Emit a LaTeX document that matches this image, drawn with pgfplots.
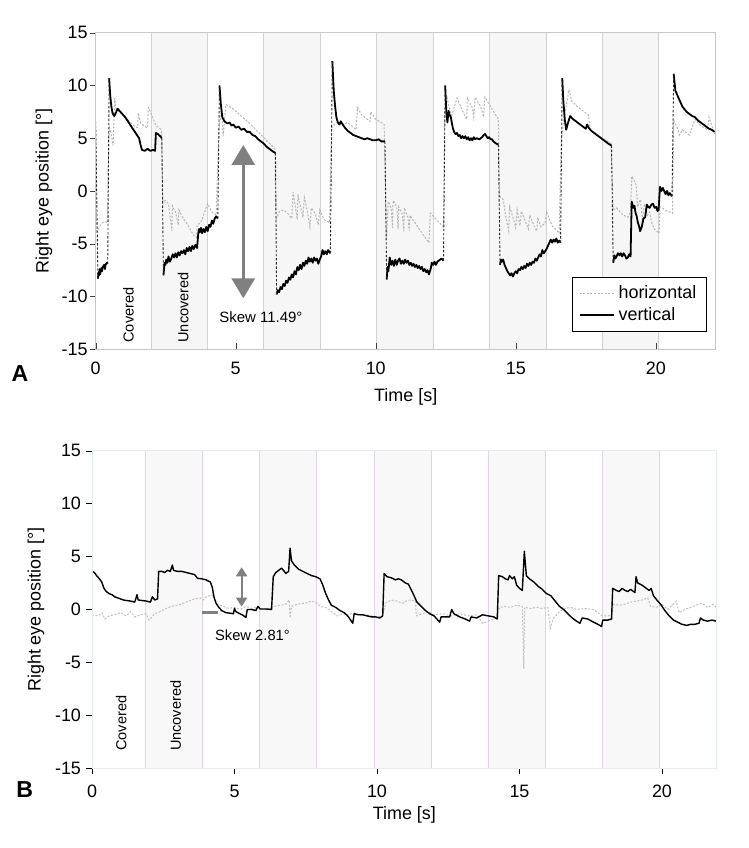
\documentclass[border=0pt]{standalone}
\usepackage{pgfplots}
\pgfplotsset{compat=1.18}
\usepackage{fontspec}
\setmainfont{Liberation Sans}
\usetikzlibrary{arrows.meta}
\definecolor{bandA}{HTML}{F6F6F6}
\definecolor{lineA}{HTML}{D2D2D2}
\definecolor{frameA}{HTML}{C8C8C8}
\definecolor{bandB}{HTML}{F8F8F8}
\definecolor{lineB}{HTML}{E0D4E4}
\definecolor{frameB}{HTML}{E4ECF7}
\definecolor{pinkB}{HTML}{F8E0E0}
\definecolor{hgray}{HTML}{B4B4B4}
\definecolor{arrowgray}{HTML}{808080}
\pgfplotsset{
  common/.style={
    scale only axis, ymin=-15, ymax=15,
    xtick={0,5,10,15,20}, ytick={-15,-10,-5,0,5,10,15},
    xtick pos=left, ytick pos=left,
    tick align=outside, major tick length=3bp,
    axis on top, clip=false,
    tick label style={font=\fontsize{9}{10}\selectfont},
    label style={font=\fontsize{9}{10}\selectfont},
    /pgf/number format/assume math mode=true,
    xlabel={Time [s]}, ylabel={Right eye position [°]},
    unbounded coords=jump,
  },
  hstyle/.style={hgray, line width=0.5bp, dash pattern=on 1bp off 0.8bp},
  vstyle/.style={black, line width=0.9bp, line join=round},
  jstyle/.style={black!85, line width=0.45bp, dash pattern=on 1.2bp off 0.9bp},
}
\begin{document}
\begin{tikzpicture}
\useasboundingbox (0,0) rectangle (374.5bp,424bp);
% ================= Panel A =================
\begin{axis}[common,
  at={(47.85bp,249.35bp)}, anchor=south west,
  width=310bp, height=158.3bp,
  xmin=0, xmax=22.14,
  axis line style={draw=frameA},
  xtick style={draw=black!75, yshift=3bp},
  ytick style={draw=black!75},
  yticklabel style={xshift=2.5bp},
  xlabel style={at={(rel axis cs:0.5,0)}, anchor=center, yshift=-24bp},
  ylabel style={at={(rel axis cs:0,0.5)}, anchor=center, yshift=25.85bp},
  legend style={at={(0.986,0.0546)}, anchor=south east, draw=black, line width=0.7bp,
    fill=white, font=\fontsize{9}{10}\selectfont, inner xsep=3bp, inner ysep=2bp,
    row sep=-1bp},
  legend cell align=left,
]
\fill[bandA] (axis cs:2,-15) rectangle (axis cs:4,15);
\fill[bandA] (axis cs:6,-15) rectangle (axis cs:8.03,15);
\fill[bandA] (axis cs:10.03,-15) rectangle (axis cs:12.05,15);
\fill[bandA] (axis cs:14.06,-15) rectangle (axis cs:16.1,15);
\fill[bandA] (axis cs:18.1,-15) rectangle (axis cs:20.1,15);
\foreach \xx in {2,4,6,8.03,10.03,12.05,14.06,16.1,18.1,20.1}{
  \edef\tmp{\noexpand\draw[lineA, line width=0.5bp] (axis cs:\xx,-15) -- (axis cs:\xx,15);}\tmp}
% horizontal (grey dotted)
\addplot[hstyle] coordinates {
(0,5.5)(0.03,-4.0)(0.1,-3.6)(0.2,-3.1)(0.3,-2.9)(0.42,-3.0)(0.46,4.5)(0.5,6.0)(0.58,5.0)(0.62,4.3)(0.68,8.8)(0.72,7.8)(0.85,7.5)(1.0,7.2)(1.2,6.6)(1.4,6.1)(1.5,6.0)(1.52,7.4)(1.6,6.5)(1.75,6.1)(1.85,6.0)(1.88,7.9)(2.0,7.2)(2.15,6.2)(2.35,5.8)(2.4,-1.0)(2.5,-0.9)(2.6,-1.2)(2.72,-3.8)(2.74,-1.4)(2.85,-2.0)(2.95,-3.2)(2.97,-1.8)(3.1,-2.5)(3.3,-3.3)(3.5,-4.2)(3.6,-4.4)(3.62,-3.2)(3.75,-3.0)(4.0,-1.2)(4.15,-2.0)(4.3,-2.3)(4.4,6.0)(4.5,7.5)(4.55,5.2)(4.65,8.2)(4.9,7.8)(5.2,7.1)(5.5,6.4)(5.8,5.6)(6.1,4.8)(6.4,4.0)(6.44,-2.7)(6.55,-2.0)(6.7,-1.8)(6.85,-2.1)(7.0,-2.6)(7.05,-0.1)(7.1,-1.0)(7.2,-2.7)(7.22,-0.3)(7.3,-1.3)(7.4,-2.5)(7.45,-0.6)(7.55,-1.8)(7.65,-3.4)(7.7,-1.6)(7.85,-2.2)(7.95,-3.2)(8.0,-1.8)(8.15,-2.7)(8.35,-3.0)(8.42,6.0)(8.6,6.5)(8.8,6.2)(9.0,6.5)(9.3,5.8)(9.35,7.9)(9.5,7.2)(9.8,6.6)(9.82,7.5)(10.0,6.8)(10.3,6.3)(10.38,-4.6)(10.45,-1.0)(10.55,-1.6)(10.6,-3.5)(10.62,-0.9)(10.75,-1.5)(10.8,-3.6)(10.82,-1.5)(10.95,-2.2)(11.0,-3.8)(11.02,-1.6)(11.15,-2.5)(11.2,-3.8)(11.22,-2.3)(11.4,-3.0)(11.6,-3.8)(11.9,-4.9)(11.95,-2.1)(12.2,-2.8)(12.42,-3.4)(12.46,7.7)(12.55,8.8)(12.7,7.0)(12.9,8.8)(13.1,7.6)(13.25,6.8)(13.27,8.8)(13.45,7.9)(13.5,7.0)(13.55,8.9)(13.75,8.0)(13.85,7.0)(13.9,8.9)(14.1,8.0)(14.38,6.8)(14.42,-0.5)(14.55,-0.8)(14.65,-2.5)(14.75,-3.8)(14.78,-1.5)(14.9,-2.5)(15.0,-3.5)(15.05,-1.8)(15.15,-3.3)(15.2,-1.9)(15.35,-2.9)(15.45,-3.6)(15.5,-2.3)(15.65,-3.3)(15.75,-3.8)(15.78,-2.5)(15.9,-3.4)(16.05,-3.0)(16.1,-2.0)(16.3,-3.3)(16.55,-4.0)(16.62,4.5)(16.7,6.5)(16.9,9.6)(17.0,8.5)(17.2,8.0)(17.4,7.6)(17.6,7.2)(17.65,5.8)(17.8,5.5)(18.1,5.0)(18.4,4.5)(18.48,-1.8)(18.6,-1.6)(18.8,-2.2)(19.0,-2.5)(19.1,-2.0)(19.14,1.4)(19.3,0.6)(19.35,-1.5)(19.45,-0.8)(19.52,-2.7)(19.6,-1.2)(19.7,-2.3)(19.78,-2.0)(19.85,-3.0)(19.95,-3.6)(20.12,-4.0)(20.15,-1.5)(20.4,-1.9)(20.6,-2.1)(20.64,6.7)(20.75,6.1)(20.85,5.3)(20.95,5.8)(21.2,5.3)(21.4,6.8)(21.6,6.2)(21.85,5.8)(21.9,7.0)(22.1,5.4)
};
\addlegendentry{horizontal}
% vertical (black) - fixation segments
\addplot[vstyle] coordinates {
(0,6.6)(0.01,nan)
(0.08,-8.3)(0.1,-7.7)(0.12,-8.0)(0.14,-7.4)(0.16,-7.9)(0.2,-7.3)(0.23,-7.6)(0.25,-7.2)(0.3,-7.0)(0.33,-7.4)(0.35,-7.0)(0.4,-6.8)(0.43,-6.9)(0.44,nan)
(0.48,10.7)(0.52,9.0)(0.56,8.0)(0.6,7.4)(0.66,7.1)(0.72,7.4)(0.78,7.8)(0.85,7.6)(0.95,7.3)(1.05,7.0)(1.15,6.6)(1.25,6.2)(1.35,5.8)(1.45,5.4)(1.55,5.0)(1.6,4.4)(1.65,3.9)(1.75,3.8)(1.85,4.0)(1.95,3.8)(2.05,3.9)(2.12,3.8)(2.15,5.5)(2.22,5.4)(2.3,5.2)(2.36,5.0)(2.37,nan)
(2.42,-8.0)(2.46,-6.8)(2.49,-7.0)(2.52,-6.5)(2.56,-6.8)(2.6,-6.2)(2.65,-6.7)(2.7,-6.4)(2.75,-6.0)(2.8,-6.3)(2.85,-5.9)(2.9,-6.3)(2.95,-5.8)(3.0,-6.1)(3.05,-5.7)(3.1,-5.9)(3.15,-5.6)(3.2,-6.0)(3.25,-5.4)(3.3,-5.7)(3.35,-5.3)(3.4,-5.7)(3.45,-5.2)(3.5,-5.5)(3.56,-5.1)(3.62,-5.4)(3.66,-4.1)(3.69,-3.6)(3.72,-3.9)(3.76,-3.5)(3.8,-4.0)(3.85,-3.6)(3.9,-3.9)(3.95,-3.4)(4.0,-3.8)(4.05,-3.2)(4.1,-3.4)(4.15,-2.8)(4.2,-3.1)(4.25,-2.6)(4.3,-2.4)(4.36,-2.6)(4.37,nan)
(4.42,10.0)(4.47,8.2)(4.52,7.0)(4.6,6.6)(4.7,6.4)(4.78,6.5)(4.85,6.2)(4.92,6.3)(5.0,6.0)(5.1,6.1)(5.2,5.8)(5.3,5.9)(5.4,5.6)(5.5,5.6)(5.6,5.3)(5.7,5.2)(5.8,4.9)(5.9,4.7)(6.0,4.5)(6.1,4.2)(6.2,4.0)(6.3,3.8)(6.35,3.7)(6.42,3.6)(6.43,nan)
(6.46,-9.8)(6.5,-9.4)(6.55,-9.6)(6.6,-9.1)(6.65,-9.3)(6.7,-8.8)(6.75,-9.0)(6.8,-8.5)(6.85,-8.7)(6.9,-8.2)(6.95,-8.4)(7.0,-7.9)(7.05,-8.2)(7.1,-7.6)(7.15,-7.9)(7.2,-7.2)(7.25,-7.5)(7.3,-7.0)(7.35,-7.4)(7.4,-6.8)(7.45,-7.1)(7.5,-6.6)(7.55,-6.9)(7.6,-6.3)(7.65,-6.7)(7.7,-6.4)(7.75,-6.8)(7.8,-6.3)(7.85,-6.6)(7.9,-6.4)(7.95,-6.9)(8.0,-6.5)(8.05,-6.2)(8.1,-5.6)(8.15,-6.0)(8.2,-5.7)(8.25,-6.0)(8.3,-5.6)(8.38,-5.9)(8.39,nan)
(8.45,12.3)(8.5,9.5)(8.55,8.0)(8.6,6.9)(8.65,6.5)(8.7,6.3)(8.75,6.6)(8.8,6.4)(8.9,6.0)(9.0,5.7)(9.1,5.5)(9.2,5.3)(9.3,5.2)(9.4,5.1)(9.5,5.0)(9.6,4.9)(9.7,5.0)(9.8,4.9)(9.9,4.8)(10.0,4.8)(10.1,4.9)(10.2,4.7)(10.33,4.7)(10.34,nan)
(10.39,-8.4)(10.42,-7.2)(10.45,-7.6)(10.5,-6.3)(10.55,-7.0)(10.6,-6.6)(10.65,-7.1)(10.7,-6.5)(10.75,-7.0)(10.8,-6.6)(10.85,-6.4)(10.9,-6.9)(10.95,-6.6)(11.0,-6.9)(11.05,-6.5)(11.1,-6.8)(11.15,-6.6)(11.2,-7.0)(11.25,-6.8)(11.3,-7.1)(11.35,-6.9)(11.4,-7.2)(11.45,-7.0)(11.5,-7.3)(11.55,-7.1)(11.6,-7.4)(11.65,-7.2)(11.7,-7.6)(11.75,-7.4)(11.8,-7.7)(11.85,-7.5)(11.9,-7.9)(11.97,-7.3)(12.0,-6.8)(12.05,-7.0)(12.1,-6.7)(12.15,-7.0)(12.2,-6.7)(12.3,-6.5)(12.35,-6.4)(12.42,-6.6)(12.43,nan)
(12.48,10.0)(12.52,7.5)(12.56,6.5)(12.6,7.6)(12.64,7.2)(12.68,7.0)(12.75,6.0)(12.8,5.6)(12.85,5.4)(12.9,5.5)(12.95,5.2)(13.0,5.3)(13.05,5.0)(13.1,5.2)(13.15,5.0)(13.2,5.2)(13.25,4.9)(13.3,5.1)(13.35,4.8)(13.4,5.0)(13.45,4.8)(13.5,5.1)(13.55,4.9)(13.6,5.0)(13.7,4.9)(13.8,5.1)(13.85,5.3)(13.9,5.4)(13.95,5.2)(14.0,5.0)(14.05,5.1)(14.1,4.9)(14.15,4.9)(14.2,4.7)(14.3,4.5)(14.38,4.4)(14.39,nan)
(14.44,-7.0)(14.47,-6.5)(14.5,-6.7)(14.55,-6.5)(14.6,-7.0)(14.65,-7.3)(14.7,-7.6)(14.75,-7.8)(14.8,-8.0)(14.85,-7.8)(14.9,-8.1)(14.95,-7.8)(15.0,-7.6)(15.05,-7.8)(15.1,-7.4)(15.15,-7.5)(15.2,-7.2)(15.25,-7.4)(15.3,-7.1)(15.35,-7.3)(15.4,-6.9)(15.45,-7.1)(15.5,-6.8)(15.55,-7.0)(15.6,-6.7)(15.65,-6.8)(15.7,-6.4)(15.75,-6.6)(15.8,-6.3)(15.85,-6.0)(15.9,-6.2)(15.95,-5.6)(16.0,-5.9)(16.05,-5.7)(16.1,-5.5)(16.15,-5.2)(16.2,-4.9)(16.25,-4.6)(16.3,-4.9)(16.35,-4.6)(16.4,-4.8)(16.45,-4.5)(16.5,-4.9)(16.55,-4.7)(16.6,-4.9)(16.61,nan)
(16.66,10.7)(16.7,8.5)(16.75,6.8)(16.8,5.8)(16.86,6.4)(16.94,7.1)(17.05,6.8)(17.2,6.5)(17.35,6.2)(17.5,5.9)(17.55,6.3)(17.6,6.0)(17.7,5.7)(17.8,5.5)(17.9,5.3)(18.0,5.1)(18.1,4.9)(18.2,4.7)(18.3,4.5)(18.42,4.3)(18.43,nan)
(18.48,-6.8)(18.52,-6.1)(18.56,-6.4)(18.6,-6.2)(18.65,-5.9)(18.7,-6.1)(18.75,-5.9)(18.8,-6.2)(18.85,-5.9)(18.9,-6.1)(18.95,-6.4)(19.0,-6.3)(19.05,-6.0)(19.1,-6.2)(19.14,-1.0)(19.2,-1.6)(19.24,-1.4)(19.28,-2.1)(19.32,-2.4)(19.36,-3.0)(19.4,-3.3)(19.44,-3.8)(19.5,-3.4)(19.56,-2.6)(19.62,-2.5)(19.68,-1.3)(19.73,-1.5)(19.78,-1.6)(19.84,-1.3)(19.9,-1.2)(19.96,-1.6)(20.02,-1.5)(20.06,-1.9)(20.1,-1.8)(20.15,0.4)(20.2,0.0)(20.25,0.3)(20.3,0.0)(20.35,-0.3)(20.4,0.0)(20.45,-0.4)(20.5,-0.2)(20.58,-0.5)(20.59,nan)
(20.64,11.1)(20.7,9.5)(20.8,8.9)(20.95,8.0)(21.1,7.5)(21.3,7.1)(21.4,7.0)(21.5,6.7)(21.6,6.5)(21.7,6.3)(21.8,6.1)(21.9,5.9)(22.0,5.8)(22.1,5.6)
};
\addlegendentry{vertical}
% vertical (black) - saccadic jumps
\addplot[jstyle, forget plot] coordinates {
(0,6.6)(0.08,-8.3)(0.09,nan)
(0.43,-6.9)(0.48,10.7)(0.49,nan)
(2.36,5.0)(2.42,-8.0)(2.43,nan)
(4.36,-2.6)(4.42,10.0)(4.43,nan)
(6.42,3.6)(6.46,-9.8)(6.47,nan)
(8.38,-5.9)(8.45,12.3)(8.46,nan)
(10.33,4.7)(10.39,-8.4)(10.4,nan)
(12.42,-6.6)(12.48,10.0)(12.49,nan)
(14.38,4.4)(14.44,-7.0)(14.45,nan)
(16.6,-4.9)(16.66,10.7)(16.67,nan)
(18.42,4.3)(18.48,-6.8)(18.49,nan)
(20.58,-0.5)(20.64,11.1)
};
\draw[arrowgray, line width=1.5bp, {Triangle[width=11.5bp,length=10bp]}-{Triangle[width=11.5bp,length=10bp]}] (axis cs:5.27,4.36) -- (axis cs:5.27,-10.17);
\node[font=\fontsize{7.5}{9}\selectfont] at (axis cs:5.9,-11.99) {Skew 11.49°};
\node[rotate=90, anchor=west, inner sep=0pt, font=\fontsize{7.3}{9}\selectfont] at (axis cs:1.17,-14.4) {Covered};
\node[rotate=90, anchor=west, inner sep=0pt, font=\fontsize{7.3}{9}\selectfont] at (axis cs:3.12,-14.4) {Uncovered};
\draw[black!80, line width=0.5bp] (rel axis cs:0,0) -- (rel axis cs:0,1);
\end{axis}
% ================= Panel B =================
\begin{axis}[common,
  at={(46bp,39.85bp)}, anchor=south west,
  width=312.35bp, height=158.8bp,
  xmin=0, xmax=21.92,
  axis line style={draw=frameB},
  xtick style={draw=black},
  ytick style={draw=black},
  xticklabel style={yshift=-2bp},
  yticklabel style={xshift=1bp},
  xlabel style={at={(rel axis cs:0.5,0)}, anchor=center, yshift=-23.4bp},
  ylabel style={at={(rel axis cs:0,0.5)}, anchor=center, yshift=28bp},
]
\fill[bandB] (axis cs:1.89,-15) rectangle (axis cs:3.88,15);
\fill[bandB] (axis cs:5.89,-15) rectangle (axis cs:7.88,15);
\fill[bandB] (axis cs:9.9,-15) rectangle (axis cs:11.9,15);
\fill[bandB] (axis cs:13.9,-15) rectangle (axis cs:15.9,15);
\fill[bandB] (axis cs:17.92,-15) rectangle (axis cs:19.9,15);
\foreach \xx in {1.89,3.88,5.89,7.88,9.9,11.9,13.9,15.9,17.92,19.9}{
  \edef\tmp{\noexpand\draw[lineB, line width=0.6bp] (axis cs:\xx,-15) -- (axis cs:\xx,15);}\tmp}
\foreach \xa/\xb in {1.89/3.88,5.89/7.88,9.9/11.9,13.9/15.9,17.92/19.9}{
  \edef\tmp{\noexpand\draw[pinkB, line width=0.6bp] (axis cs:\xa,15) -- (axis cs:\xb,15);}\tmp}
\addplot[hstyle, hgray!85] coordinates {
(0,-0.5)(0.2,-0.6)(0.35,-0.3)(0.45,-0.9)(0.6,-0.6)(0.8,-0.5)(1.0,-0.3)(1.2,-0.6)(1.35,-0.2)(1.5,-0.7)(1.7,-0.5)(1.9,-0.4)(2.0,-1.0)(2.2,-0.4)(2.4,-0.2)(2.6,0.1)(2.8,0.3)(3.0,0.4)(3.2,0.6)(3.4,0.8)(3.6,1.0)(3.8,1.1)(3.9,0.9)(4.0,1.2)(4.2,1.4)(4.3,1.0)(4.4,0.5)(4.6,0.3)(4.8,0.1)(5.0,0.2)(5.2,0.0)(5.4,0.3)(5.6,0.1)(5.8,0.2)(6.0,0.0)(6.2,0.1)(6.4,0.3)(6.6,0.4)(6.8,0.5)(6.92,0.9)(6.95,-0.8)(7.0,0.3)(7.2,0.5)(7.5,0.6)(7.7,0.8)(7.9,0.6)(8.0,0.3)(8.2,0.2)(8.4,-0.2)(8.6,-0.6)(8.8,-0.4)(9.0,-0.5)(9.2,-0.3)(9.4,-0.6)(9.6,-0.5)(9.8,-0.6)(10.0,-0.7)(10.2,-0.6)(10.3,0.6)(10.5,0.9)(10.7,0.8)(10.9,0.6)(11.1,0.9)(11.35,0.8)(11.38,-0.6)(11.6,-0.4)(11.8,-0.2)(12.0,-0.5)(12.3,-0.4)(12.6,-0.6)(12.9,-0.4)(13.2,-0.6)(13.5,-0.5)(13.7,-1.3)(13.9,-1.1)(14.2,-0.8)(14.3,0.2)(14.5,0.3)(14.7,0.2)(14.9,0.4)(15.1,0.3)(15.15,-5.6)(15.18,0.2)(15.4,0.1)(15.6,0.2)(15.8,0.1)(16.0,0.2)(16.08,-1.8)(16.2,-0.8)(16.4,-0.2)(16.6,0.1)(16.8,0.2)(17.0,0.0)(17.3,0.1)(17.6,0.0)(17.9,-0.6)(18.1,-0.6)(18.25,-0.5)(18.3,0.5)(18.5,0.4)(18.7,0.5)(18.9,0.7)(19.1,0.8)(19.3,0.9)(19.5,1.1)(19.6,0.3)(19.8,0.2)(20.0,0.5)(20.2,0.0)(20.35,0.4)(20.5,0.8)(20.6,-0.3)(20.8,0.0)(21.0,0.2)(21.2,0.4)(21.4,0.6)(21.6,0.2)(21.8,0.5)(21.9,0.2)
};
\addplot[vstyle, line width=0.7bp] coordinates {
(0,3.6)(0.08,3.5)(0.16,3.2)(0.26,2.9)(0.34,2.6)(0.42,2.0)(0.5,1.7)(0.6,1.5)(0.7,1.4)(0.8,1.2)(0.9,1.1)(1.0,1.0)(1.1,0.9)(1.2,0.85)(1.35,0.8)(1.5,0.7)(1.58,1.4)(1.62,0.9)(1.75,0.85)(1.9,0.8)(2.05,0.7)(2.12,1.2)(2.2,0.9)(2.3,1.0)(2.34,3.6)(2.45,3.6)(2.55,3.5)(2.65,3.7)(2.75,3.6)(2.82,4.2)(2.86,3.7)(3.0,3.6)(3.15,3.6)(3.3,3.5)(3.45,3.4)(3.6,3.3)(3.7,2.95)(3.85,2.9)(4.0,2.8)(4.15,2.6)(4.22,2.1)(4.28,1.2)(4.35,0.6)(4.45,0.2)(4.55,-0.1)(4.7,-0.3)(4.85,-0.35)(4.96,-0.4)(5.0,0.1)(5.05,-0.2)(5.15,-0.35)(5.3,-0.55)(5.4,-0.75)(5.45,0.0)(5.6,0.0)(5.75,-0.1)(5.82,0.3)(5.9,0.05)(6.1,0.05)(6.3,0.0)(6.36,3.1)(6.45,3.5)(6.55,3.7)(6.65,3.9)(6.72,3.7)(6.8,3.4)(6.9,3.6)(6.95,5.8)(7.0,4.6)(7.1,4.2)(7.25,3.8)(7.4,3.6)(7.55,3.4)(7.7,3.2)(7.85,3.1)(8.0,2.9)(8.1,2.3)(8.2,1.5)(8.3,0.9)(8.4,0.4)(8.55,0.2)(8.7,-0.1)(8.85,-0.3)(9.0,-0.7)(9.15,-1.3)(9.2,-0.4)(9.35,-0.5)(9.5,-0.5)(9.65,-0.6)(9.8,-0.7)(9.95,-0.7)(10.1,-0.8)(10.2,-0.6)(10.25,3.4)(10.35,3.1)(10.5,3.0)(10.65,2.8)(10.75,2.9)(10.85,2.8)(11.0,2.5)(11.1,2.4)(11.25,1.6)(11.4,0.7)(11.55,0.3)(11.7,-0.1)(11.85,-0.4)(12.0,-0.6)(12.2,-1.2)(12.25,-0.7)(12.4,-0.7)(12.55,-0.7)(12.62,0.0)(12.7,-0.4)(12.9,-0.7)(13.1,-0.9)(13.25,-1.1)(13.3,-0.7)(13.5,-0.8)(13.7,-0.5)(13.9,-0.6)(14.1,-0.7)(14.22,-0.9)(14.27,3.2)(14.4,3.1)(14.5,2.9)(14.6,2.8)(14.65,3.2)(14.75,2.9)(14.82,3.1)(14.9,2.3)(15.0,2.0)(15.1,1.8)(15.17,5.5)(15.24,3.2)(15.35,2.9)(15.5,2.6)(15.65,2.2)(15.8,1.9)(15.95,1.5)(16.1,1.3)(16.25,0.8)(16.4,0.3)(16.55,0.0)(16.7,-0.4)(16.85,-0.8)(17.0,-1.1)(17.12,-1.3)(17.2,-0.8)(17.4,-0.9)(17.6,-1.2)(17.75,-1.4)(17.88,-1.6)(17.92,-1.0)(18.1,-1.0)(18.23,-0.9)(18.27,2.0)(18.4,1.8)(18.5,1.7)(18.6,2.0)(18.7,1.8)(18.8,1.7)(18.9,1.9)(19.05,1.6)(19.09,3.1)(19.15,2.5)(19.3,2.3)(19.45,2.0)(19.55,1.8)(19.62,2.0)(19.7,1.3)(19.85,0.8)(19.95,0.5)(20.1,-0.1)(20.25,-0.6)(20.4,-1.0)(20.55,-1.2)(20.7,-1.4)(20.87,-1.5)(21.0,-1.4)(21.15,-1.4)(21.3,-1.3)(21.35,-0.8)(21.45,-1.0)(21.6,-1.1)(21.75,-1.0)(21.9,-1.1)
};
\draw[arrowgray, line width=1bp, {Triangle[width=5.5bp,length=4.5bp]}-{Triangle[width=5.5bp,length=4.5bp]}] (axis cs:5.25,3.99) -- (axis cs:5.25,0.27);
\draw[arrowgray, line width=1.5bp] (axis cs:3.85,-0.3) -- (axis cs:4.43,-0.3);
\node[font=\fontsize{7.4}{9}\selectfont] at (axis cs:5.63,-2.41) {Skew 2.81°};
\node[rotate=90, anchor=west, inner sep=0pt, font=\fontsize{7.3}{9}\selectfont] at (axis cs:1.02,-13.37) {Covered};
\node[rotate=90, anchor=west, inner sep=0pt, font=\fontsize{7.3}{9}\selectfont] at (axis cs:2.94,-13.4) {Uncovered};
\draw[black, line width=0.5bp] (rel axis cs:0,0) -- (rel axis cs:0,1);
\end{axis}
\node[font=\bfseries\fontsize{11.6}{13}\selectfont] at (10bp,237.4bp) {A};
\node[font=\bfseries\fontsize{11.6}{13}\selectfont] at (12.3bp,29.2bp) {B};
\end{tikzpicture}
\end{document}
